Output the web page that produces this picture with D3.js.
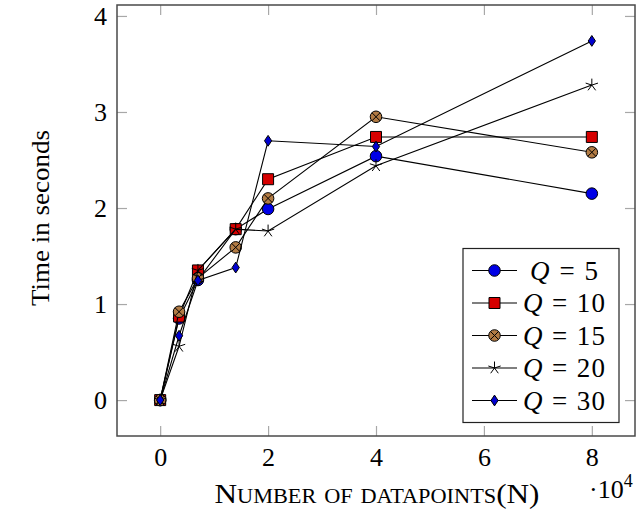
<!DOCTYPE html>
<html><head><meta charset="utf-8">
<script src="https://cdn.jsdelivr.net/npm/d3@7"></script>
<style>body{margin:0;background:#fff}svg{display:block}</style>
</head><body><svg id="c" width="644" height="510"></svg>
<script>
// ---- data ----
const xValues = [0, 0.35, 0.7, 1.4, 2, 4, 8];          // N / 10^4
const qLabels = ["5", "10", "15", "20", "30"];
const q5  = [0, 0.85, 1.25, 1.78, 1.99, 2.54, 2.15];
const q10 = [0, 0.87, 1.35, 1.78, 2.30, 2.74, 2.74];
const q15 = [0, 0.92, 1.27, 1.59, 2.10, 2.95, 2.58];
const q20 = [0, 0.56, 1.35, 1.78, 1.76, 2.44, 3.28];
const q30 = [0, 0.67, 1.245, 1.38, 2.70, 2.64, 3.74];
const xTicks = [0, 2, 4, 6, 8];
const yTicks = [0, 1, 2, 3, 4];
const yLabelText = "Time in seconds";
const xLabelText = "Number of datapoints(N)";

// ---- layout ----
const W = 644, H = 510;
const L = 117, R = 635, T = 5, B = 436;
const FONT = "'Liberation Serif','Times New Roman',serif";
const FS = 25;

const seriesValues = [q5, q10, q15, q20, q30];
const allY = seriesValues.flat();
const xPad = (d3.max(xValues) - d3.min(xValues)) * 0.1;
const yPad = (d3.max(allY) - d3.min(allY)) * 0.1;
const x = d3.scaleLinear().domain([d3.min(xValues) - xPad, d3.max(xValues) + xPad]).range([L, R]);
const y = d3.scaleLinear().domain([d3.min(allY) - yPad, d3.max(allY) + yPad]).range([B, T]);

const svg = d3.select("#c");
svg.append("rect").attr("width", W).attr("height", H).attr("fill", "#fff");

// custom symbols
const sym = {
  circle: {draw(c, s){ const r = Math.sqrt(s / Math.PI); c.moveTo(r, 0); c.arc(0, 0, r, 0, 2 * Math.PI); }},
  square: {draw(c, s){ const h = Math.sqrt(s) / 2; c.rect(-h, -h, 2 * h, 2 * h); }},
  diamond: {draw(c, s){ const a = Math.sqrt(s) / 2; c.moveTo(0, -a * 1.5); c.lineTo(a, 0); c.lineTo(0, a * 1.5); c.lineTo(-a, 0); c.closePath(); }},
  star: {draw(c, s){ const r = Math.sqrt(s); for (let k = 0; k < 5; k++){ const ang = -Math.PI / 2 + k * 2 * Math.PI / 5; c.moveTo(0, 0); c.lineTo(r * Math.cos(ang), r * Math.sin(ang)); } }},
  cross: {draw(c, s){ const r = Math.sqrt(s / Math.PI) * 0.7071; c.moveTo(-r, -r); c.lineTo(r, r); c.moveTo(-r, r); c.lineTo(r, -r); }}
};
const styles = [
  {type: "circle", size: 105, fill: "#0000e6"},
  {type: "square", size: 121, fill: "#d60000"},
  {type: "otimes", size: 105, fill: "#b27b44"},
  {type: "star", size: 42, fill: "none"},
  {type: "diamond", size: 52, fill: "#0000d0"}
];

function drawMarker(g, st, px, py){
  const gm = g.append("g").attr("transform", `translate(${px},${py})`);
  if (st.type === "otimes"){
    gm.append("path").attr("d", d3.symbol(sym.circle, st.size)()).attr("fill", st.fill).attr("stroke", "#000").attr("stroke-width", 1);
    gm.append("path").attr("d", d3.symbol(sym.cross, st.size)()).attr("fill", "none").attr("stroke", "#000").attr("stroke-width", 1);
  } else if (st.type === "star"){
    gm.append("path").attr("d", d3.symbol(sym.star, st.size)()).attr("fill", "none").attr("stroke", "#000").attr("stroke-width", 1);
  } else {
    gm.append("path").attr("d", d3.symbol(sym[st.type], st.size)()).attr("fill", st.fill).attr("stroke", "#000").attr("stroke-width", 1);
  }
}

// ---- axes (ticks inward on all sides) ----
const tickCol = "#a8a8a8";
const gxB = svg.append("g").attr("transform", `translate(0,${B})`)
  .call(d3.axisBottom(x).tickValues(xTicks).tickSizeInner(-10).tickSizeOuter(0).tickFormat(d3.format("d")));
const gxT = svg.append("g").attr("transform", `translate(0,${T})`)
  .call(d3.axisTop(x).tickValues(xTicks).tickSizeInner(-10).tickSizeOuter(0).tickFormat(""));
const gyL = svg.append("g").attr("transform", `translate(${L},0)`)
  .call(d3.axisLeft(y).tickValues(yTicks).tickSizeInner(-10).tickSizeOuter(0).tickFormat(d3.format("d")));
const gyR = svg.append("g").attr("transform", `translate(${R},0)`)
  .call(d3.axisRight(y).tickValues(yTicks).tickSizeInner(-10).tickSizeOuter(0).tickFormat(""));
[gxB, gxT, gyL, gyR].forEach(g => {
  g.select(".domain").remove();
  g.selectAll(".tick line").attr("stroke", tickCol).attr("stroke-width", 1.2);
  g.selectAll("text").attr("font-family", FONT).attr("font-size", 26).attr("fill", "#000");
});
gxB.selectAll(".tick text").attr("y", 30).attr("dy", 0);
gyL.selectAll(".tick text").attr("x", -10).attr("dy", "0.33em");

// box
svg.append("rect").attr("x", L).attr("y", T).attr("width", R - L).attr("height", B - T)
  .attr("fill", "none").attr("stroke", "#4a4a4a").attr("stroke-width", 1.5);

// ---- series ----
const line = d3.line().x((d, i) => x(xValues[i])).y(d => y(d));
const plot = svg.append("g");
seriesValues.forEach((vals, si) => {
  const g = plot.append("g");
  g.append("path").attr("d", line(vals)).attr("fill", "none").attr("stroke", "#000").attr("stroke-width", 1.1);
  vals.forEach((v, i) => drawMarker(g, styles[si], x(xValues[i]), y(v)));
});

// ---- legend ----
const lg = svg.append("g");
const lx0 = 463, ly0 = 248.5, lw = 156, lh = 174, step = 32.5, rowY0 = 270.5;
lg.append("rect").attr("x", lx0).attr("y", ly0).attr("width", lw).attr("height", lh)
  .attr("fill", "#fff").attr("stroke", "#222").attr("stroke-width", 1.2);
qLabels.forEach((q, i) => {
  const cy = rowY0 + i * step;
  lg.append("line").attr("x1", 472).attr("x2", 517).attr("y1", cy).attr("y2", cy).attr("stroke", "#000").attr("stroke-width", 1.1);
  drawMarker(lg, styles[i], 494.5, cy);
  const t = lg.append("text").attr("x", 564).attr("y", cy + 9).attr("text-anchor", "middle")
    .attr("font-family", FONT).attr("font-size", 27)
    .attr("textLength", q.length > 1 ? 82 : 68).attr("lengthAdjust", "spacing");
  t.append("tspan").attr("font-style", "italic").text("Q");
  t.append("tspan").text(" = " + q);
});

// ---- axis labels ----
svg.append("text").attr("transform", `translate(49,218) rotate(-90)`).attr("text-anchor", "middle")
  .attr("font-family", FONT).attr("font-size", 26)
  .attr("textLength", 176).attr("lengthAdjust", "spacingAndGlyphs").text(yLabelText);
svg.append("text").attr("x", 377).attr("y", 503).attr("text-anchor", "middle")
  .attr("font-family", FONT).attr("font-size", 28).attr("font-variant", "small-caps")
  .attr("textLength", 325).attr("lengthAdjust", "spacingAndGlyphs").text(xLabelText);
const sc = svg.append("text").attr("x", 589).attr("y", 498).attr("font-family", FONT).attr("font-size", 26);
sc.append("tspan").text("·10");
sc.append("tspan").attr("font-size", 18).attr("dy", -11).text("4");
</script></body></html>
